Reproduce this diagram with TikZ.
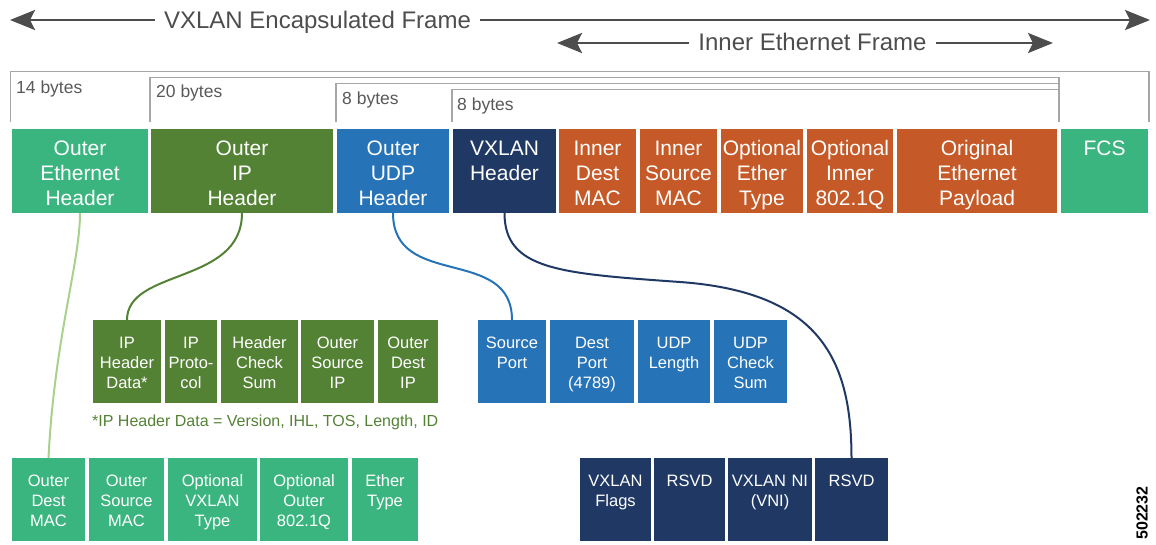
\documentclass[tikz,border=0pt]{standalone}
\usepackage{fontspec}
\setmainfont{Liberation Sans}
\usetikzlibrary{arrows.meta}
\definecolor{ethg}{HTML}{3BB57F}
\definecolor{ipg}{HTML}{548235}
\definecolor{udpb}{HTML}{2673B8}
\definecolor{vxn}{HTML}{1F3864}
\definecolor{orn}{HTML}{C55A28}
\definecolor{lgc}{HTML}{A9D18E}
\definecolor{arrg}{HTML}{4D4D4D}
\definecolor{brk}{HTML}{A6A6A6}
\definecolor{bytg}{HTML}{595959}
\tikzset{
  boxbase/.style={draw=none, inner sep=0pt, outer sep=0pt, anchor=north west},
  topbox/.style={boxbase, minimum height=84pt},
  subbox/.style={boxbase, minimum height=83pt},
  toptxt/.style={anchor=base, inner sep=0pt, align=center, text=white, font=\fontsize{21}{25}\selectfont},
  subtxt/.style={anchor=base, inner sep=0pt, align=center, text=white, font=\fontsize{16.5}{20}\selectfont},
  ttl/.style={anchor=base, inner xsep=9pt, inner ysep=0pt, text=arrg, font=\fontsize{24}{28}\selectfont},
  bigarr/.style={draw=arrg, line width=2.8pt, -{Stealth[length=25pt,width=20pt,inset=5pt]}},
  bracket/.style={draw=brk, line width=1.3pt},
  bytes/.style={anchor=base west, inner sep=0pt, text=bytg, font=\fontsize{17.5}{20}\selectfont},
  conn/.style={line width=2pt},
}
\newcommand{\tbx}[5]{%
  \pgfmathsetmacro{\bxw}{#3-#2}%
  \node[topbox, fill=#4, minimum width=\bxw pt] (#1) at (#2,129) {};%
  \node[toptxt, text width=\bxw pt] (#1-t) at ([yshift=-26pt]#1.north) {#5};%
}
\newcommand{\sbx}[6]{%
  \pgfmathsetmacro{\bxw}{#3-#2}%
  \node[subbox, fill=#5, minimum width=\bxw pt] (#1) at (#2,#4) {};%
  \node[subtxt, text width=\bxw pt] (#1-t) at ([yshift=-28pt]#1.north) {#6};%
}
\begin{document}
\begin{tikzpicture}[x=1pt,y=-1pt]
\useasboundingbox (0,0) rectangle (1156,544);

% title arrows
\coordinate (encL) at (10,20);
\coordinate (encR) at (1150,20);
\node[ttl] (enc) at (317.5,28.3) {VXLAN Encapsulated Frame};
\draw[bigarr] (enc.west |- encL) -- (encL);
\draw[bigarr] (enc.east |- encR) -- (encR);
\coordinate (innL) at (557,43);
\coordinate (innR) at (1053,43);
\node[ttl] (inn) at (812.5,50.5) {Inner Ethernet Frame};
\draw[bigarr] (inn.west |- innL) -- (innL);
\draw[bigarr] (inn.east |- innR) -- (innR);

% byte brackets
\draw[bracket] (10.5,122) -- (10.5,71.5) -- (1149,71.5) -- (1149,122);
\draw[bracket] (150,122) -- (150,77.5) -- (1059,77.5) -- (1059,122);
\draw[bracket] (336,122) -- (336,83.5) -- (1059,83.5);
\draw[bracket] (452,122) -- (452,89.5) -- (1059,89.5);
\node[bytes] (b14) at (16,93) {14 bytes};
\node[bytes] (b20) at (156,97.5) {20 bytes};
\node[bytes] (b8a) at (342,104) {8 bytes};
\node[bytes] (b8b) at (457,110.5) {8 bytes};

% top row
\tbx{oeth}{12}{148}{ethg}{Outer\\Ethernet\\Header}
\tbx{oip}{151}{333}{ipg}{Outer\\IP\\Header}
\tbx{oudp}{337}{449}{udpb}{Outer\\UDP\\Header}
\tbx{vx}{453}{556}{vxn}{VXLAN\\Header}
\tbx{idm}{559}{636}{orn}{Inner\\Dest\\MAC}
\tbx{ism}{640}{717}{orn}{Inner\\Source\\MAC}
\tbx{oet}{721}{803}{orn}{Optional\\Ether\\Type}
\tbx{oin}{807}{893}{orn}{Optional\\Inner\\802.1Q}
\tbx{oep}{897}{1057}{orn}{Original\\Ethernet\\Payload}
\tbx{fcs}{1061}{1148}{ethg}{FCS}

% IP sub-fields
\sbx{ipd}{93}{161}{320}{ipg}{IP\\Header\\Data*}
\sbx{ipp}{165}{217}{320}{ipg}{IP\\Proto-\\col}
\sbx{hcs}{221}{298}{320}{ipg}{Header\\Check\\Sum}
\sbx{osip}{301}{374}{320}{ipg}{Outer\\Source\\IP}
\sbx{odip}{378}{438}{320}{ipg}{Outer\\Dest\\IP}
\node[anchor=base west, inner sep=0pt, text=ipg, font=\fontsize{16}{20}\selectfont] (foot) at (92,426) {*IP Header Data = Version, IHL, TOS, Length, ID};

% Ethernet sub-fields
\sbx{odmac}{12}{85}{458}{ethg}{Outer\\Dest\\MAC}
\sbx{osmac}{89}{164}{458}{ethg}{Outer\\Source\\MAC}
\sbx{ovt}{168}{257}{458}{ethg}{Optional\\VXLAN\\Type}
\sbx{oo8}{260}{348}{458}{ethg}{Optional\\Outer\\802.1Q}
\sbx{ety}{352}{418}{458}{ethg}{Ether\\Type}

% UDP sub-fields
\sbx{sport}{478}{546}{320}{udpb}{Source\\Port}
\sbx{dport}{550}{634}{320}{udpb}{Dest\\Port\\(4789)}
\sbx{ulen}{638}{710}{320}{udpb}{UDP\\Length}
\sbx{ucs}{714}{787}{320}{udpb}{UDP\\Check\\Sum}

% VXLAN sub-fields
\sbx{vfl}{580}{651}{458}{vxn}{VXLAN\\Flags}
\sbx{rs1}{654}{725}{458}{vxn}{RSVD}
\sbx{vni}{728}{812}{458}{vxn}{VXLAN NI\\(VNI)}
\sbx{rs2}{815}{888}{458}{vxn}{RSVD}

% connectors
\draw[conn, draw=lgc] (oeth.south) .. controls +(0,50) and +(6,-120) .. (odmac.north);
\draw[conn, draw=ipg] (oip.south) .. controls +(0,72) and +(0,-52) .. (ipd.north);
\draw[conn, draw=udpb] (oudp.south) .. controls +(0,77) and +(0,-75) .. (sport.north);
\coordinate (navm) at (680,282);
\draw[conn, draw=vxn] (vx.south) .. controls +(0,57) and (560,273.4) .. (navm) .. controls (820,292) and +(0,-98) .. (rs2.north);

% figure id
\node[rotate=90, inner sep=0pt, text=black, font=\fontsize{16}{18}\selectfont\bfseries] (fid) at (1142,513) {502232};
\end{tikzpicture}
\end{document}
